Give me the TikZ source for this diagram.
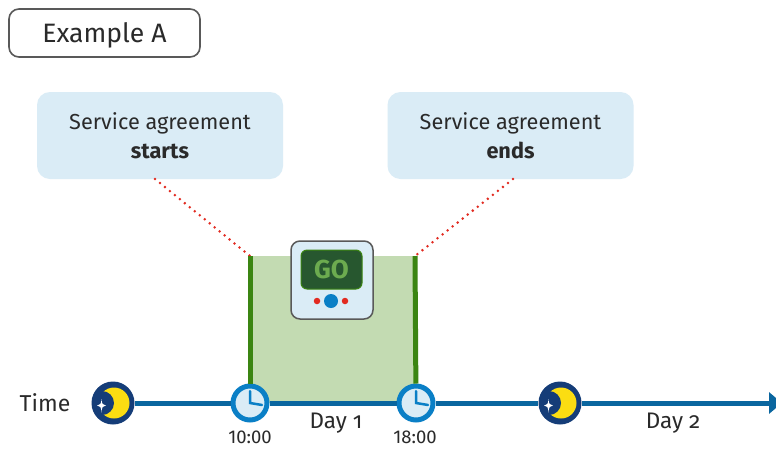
\documentclass[tikz,border=0pt]{standalone}
\usepackage{fontspec}
\setmainfont{Fira Sans}
\newfontfamily\oldnum[Numbers=OldStyle]{Fira Sans}
\usetikzlibrary{arrows.meta}
\definecolor{bluebox}{HTML}{DAECF6}
\definecolor{ink}{HTML}{2A2A2A}
\definecolor{tline}{HTML}{0A669F}
\definecolor{clockb}{HTML}{0A7FC6}
\definecolor{night}{HTML}{153D78}
\definecolor{moonc}{HTML}{FBDD12}
\definecolor{greenfill}{HTML}{C3DBB2}
\definecolor{greenbar}{HTML}{3B8512}
\definecolor{screen}{HTML}{27572F}
\definecolor{gotext}{HTML}{6CAB4F}
\definecolor{dotred}{HTML}{E22A20}
\tikzset{
  x=1pt,y=-1pt,
  txt/.style={text=ink,inner sep=0pt,align=center},
  infobox/.style={fill=bluebox,rounded corners=13pt,minimum width=246pt,minimum height=87pt,txt,font=\fontsize{21.7}{29}\selectfont},
  tick/.style={txt,font=\fontsize{18.5}{20}\selectfont},
  daylab/.style={txt,font=\oldnum\fontsize{22.5}{24}\selectfont},
  dots/.style={dotred,line width=2.8pt,line cap=round,dash pattern=on 0pt off 6.4pt},
  bar/.style={greenbar,line width=5pt},
  axis/.style={tline,line width=5pt},
  clock/.style={circle,draw=clockb,line width=5pt,fill=bluebox,minimum size=34pt,inner sep=0pt},
  moon/.style={circle,fill=night,minimum size=43pt,inner sep=0pt},
}
\newcommand{\moonart}[1]{%
  \begin{scope}[shift={(#1)}]
    \fill[moonc] (1,0) circle[radius=15.5];
    \begin{scope}
      \clip (0,0) circle[radius=21];
      \fill[night] (-11,0) circle[radius=12];
    \end{scope}
    \fill[white] (-11.5,-4) .. controls (-11,1) .. (-7,2.5) .. controls (-11,4) .. (-11.5,9.5) .. controls (-12,4) .. (-16,2.5) .. controls (-12,1) .. cycle;
  \end{scope}}
\newcommand{\clockart}[1]{%
  \draw[clockb,line width=2.5pt,line cap=round] ($(#1.center)+(0,-12)$) -- (#1.center) -- ($(#1.center)+(12,2)$);}
\usetikzlibrary{calc}
\begin{document}
\begin{tikzpicture}
\useasboundingbox (0,0) rectangle (776,448);
\fill[white] (0,0) rectangle (776,448);

\node[draw=black!65,line width=1.6pt,rounded corners=10pt,minimum width=191pt,minimum height=48pt] (example) at (104.5,33) {};
\node[txt,font=\fontsize{26.6}{30}\selectfont] (exampleText) at (104.5,35) {Example A};

\node[infobox] (start) at (160,135.5) {Service agreement\\\textbf{starts}};
\node[infobox] (end) at (510.5,135.5) {Service agreement\\\textbf{ends}};

\fill[greenfill] (250,256) rectangle (415,403);

\coordinate (barStartTop) at (250,256);
\coordinate (barEndTop) at (415,256);
\coordinate (startFoot) at (155,179);
\coordinate (endFoot) at (513,179);
\coordinate (axisEnd) at (782,403);

\draw[dots] (startFoot) -- (barStartTop);
\draw[dots] (endFoot) -- (barEndTop);

\node[moon] (moon1) at (113,403) {};
\node[clock] (clock1) at (250,403) {};
\node[clock] (clock2) at (416,403) {};
\node[moon] (moon2) at (560,403) {};

\draw[bar] (barStartTop) -- (clock1);
\draw[bar] (barEndTop) -- (clock2);

\draw[axis] (moon1) -- (clock1);
\draw[axis] (clock1) -- (clock2);
\draw[axis] (clock2) -- (moon2);
\draw[axis,-{Triangle[length=13pt,width=21pt]}] (moon2) -- (axisEnd);

\moonart{moon1}
\moonart{moon2}
\clockart{clock1}
\clockart{clock2}

\node[txt,font=\fontsize{23}{24}\selectfont] (time) at (45,403) {Time};
\node[tick] (t1) at (250,437.5) {10:00};
\node[tick] (t2) at (415,437.5) {18:00};
\node[daylab] (d1) at (336,423) {Day 1};
\node[daylab] (d2) at (673,423) {Day 2};

% device
\node[draw=black!65,line width=1.5pt,fill=bluebox,rounded corners=9pt,minimum width=82pt,minimum height=78pt] (device) at (332,280) {};
\node[fill=screen,draw=greenbar,line width=1pt,rounded corners=6pt,minimum width=61pt,minimum height=39pt,inner sep=0pt,text=gotext,font=\bfseries\fontsize{26}{26}\selectfont] (screen) at (331.5,269.5) {GO};
\node[circle,fill=clockb,minimum size=14pt,inner sep=0pt] (ledB) at (331,301) {};
\node[circle,fill=dotred,minimum size=6.5pt,inner sep=0pt] (ledL) at (317,301) {};
\node[circle,fill=dotred,minimum size=6.5pt,inner sep=0pt] (ledR) at (345,301) {};
\end{tikzpicture}
\end{document}
